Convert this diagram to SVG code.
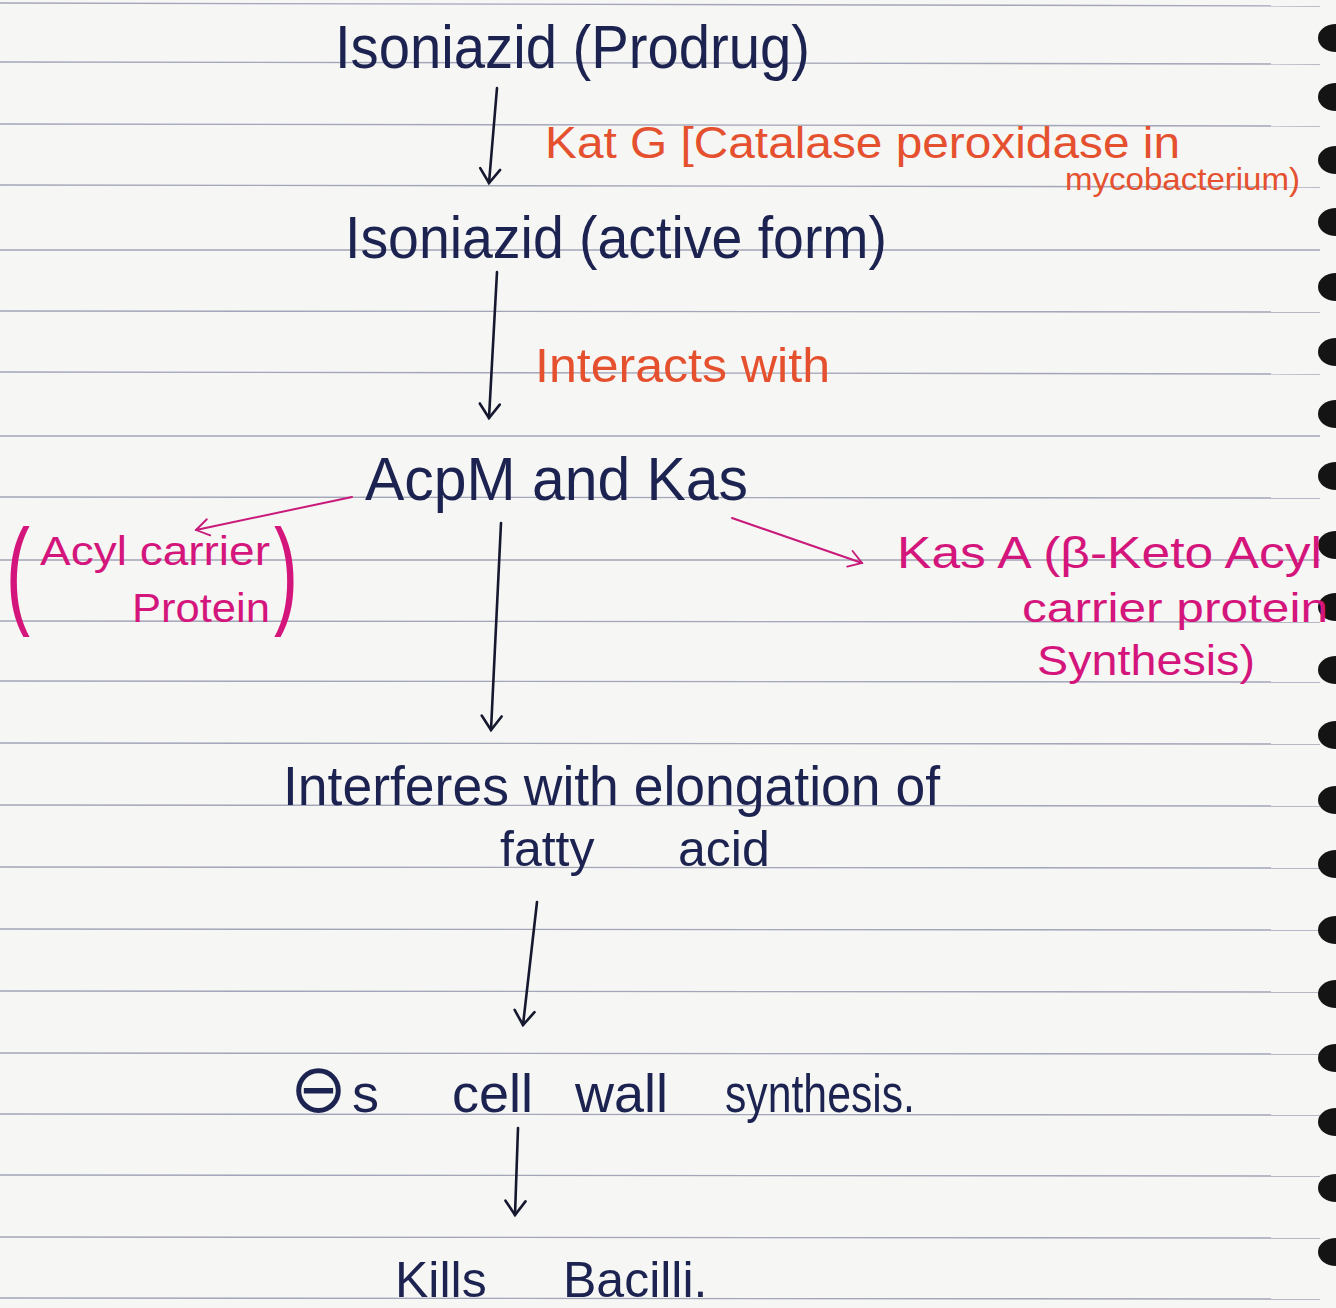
<svg xmlns="http://www.w3.org/2000/svg" width="1336" height="1308" viewBox="0 0 1336 1308">
<defs>
<style>
.ink{fill:#1c2350;font-family:"Liberation Sans",Arial,sans-serif}
.org{fill:#e5502f;font-family:"Liberation Sans",Arial,sans-serif}
.pnk{fill:#d4157c;font-family:"Liberation Sans",Arial,sans-serif}
.rule{stroke:#8f92aa;stroke-width:1.4;opacity:.8}
.hole{fill:#141414}
.conn{fill:none;stroke:#15182e;stroke-width:2.6;stroke-linecap:round}
.connp{fill:none;stroke:#c9197a;stroke-width:2;stroke-linecap:round}
</style>
<marker id="ah" viewBox="0 0 24 24" refX="20" refY="12" markerWidth="24" markerHeight="24" markerUnits="userSpaceOnUse" orient="auto">
<path d="M6,2 L20,12 L6,22" fill="none" stroke="#15182e" stroke-width="2.6" stroke-linecap="round"/>
</marker>
<marker id="ahp" viewBox="0 0 24 24" refX="20" refY="12" markerWidth="22" markerHeight="22" markerUnits="userSpaceOnUse" orient="auto">
<path d="M6,3 L20,12 L6,21" fill="none" stroke="#c9197a" stroke-width="2" stroke-linecap="round"/>
</marker>
</defs>
<rect width="1336" height="1308" fill="#f6f6f4"/>
<g id="paper">
<line class="rule" x1="0" y1="3" x2="1320" y2="6"/>
<line class="rule" x1="0" y1="62" x2="1320" y2="64"/>
<line class="rule" x1="0" y1="124" x2="1320" y2="126"/>
<line class="rule" x1="0" y1="185" x2="1320" y2="187"/>
<line class="rule" x1="0" y1="250" x2="1320" y2="250"/>
<line class="rule" x1="0" y1="311" x2="1320" y2="312"/>
<line class="rule" x1="0" y1="372" x2="1320" y2="374"/>
<line class="rule" x1="0" y1="436" x2="1320" y2="436"/>
<line class="rule" x1="0" y1="497" x2="1320" y2="498"/>
<line class="rule" x1="0" y1="560" x2="1320" y2="560"/>
<line class="rule" x1="0" y1="621" x2="1320" y2="622"/>
<line class="rule" x1="0" y1="681" x2="1320" y2="682"/>
<line class="rule" x1="0" y1="743" x2="1320" y2="744"/>
<line class="rule" x1="0" y1="805" x2="1320" y2="806"/>
<line class="rule" x1="0" y1="867" x2="1320" y2="868"/>
<line class="rule" x1="0" y1="929" x2="1320" y2="930"/>
<line class="rule" x1="0" y1="991" x2="1320" y2="992"/>
<line class="rule" x1="0" y1="1053" x2="1320" y2="1054"/>
<line class="rule" x1="0" y1="1114" x2="1320" y2="1115"/>
<line class="rule" x1="0" y1="1175" x2="1320" y2="1176"/>
<line class="rule" x1="0" y1="1237" x2="1320" y2="1238"/>
<line class="rule" x1="0" y1="1298" x2="1320" y2="1299"/>
<g>
<ellipse class="hole" cx="1336" cy="38" rx="18" ry="14"/>
<ellipse class="hole" cx="1336" cy="97" rx="18" ry="14"/>
<ellipse class="hole" cx="1336" cy="160" rx="18" ry="14"/>
<ellipse class="hole" cx="1336" cy="222" rx="18" ry="14"/>
<ellipse class="hole" cx="1336" cy="287" rx="18" ry="14"/>
<ellipse class="hole" cx="1336" cy="352" rx="18" ry="14"/>
<ellipse class="hole" cx="1336" cy="414" rx="18" ry="14"/>
<ellipse class="hole" cx="1336" cy="476" rx="18" ry="14"/>
<ellipse class="hole" cx="1336" cy="545" rx="18" ry="14"/>
<ellipse class="hole" cx="1336" cy="607" rx="18" ry="14"/>
<ellipse class="hole" cx="1336" cy="670" rx="18" ry="14"/>
<ellipse class="hole" cx="1336" cy="735" rx="18" ry="14"/>
<ellipse class="hole" cx="1336" cy="800" rx="18" ry="14"/>
<ellipse class="hole" cx="1336" cy="864" rx="18" ry="14"/>
<ellipse class="hole" cx="1336" cy="930" rx="18" ry="14"/>
<ellipse class="hole" cx="1336" cy="994" rx="18" ry="14"/>
<ellipse class="hole" cx="1336" cy="1058" rx="18" ry="14"/>
<ellipse class="hole" cx="1336" cy="1122" rx="18" ry="14"/>
<ellipse class="hole" cx="1336" cy="1188" rx="18" ry="14"/>
<ellipse class="hole" cx="1336" cy="1252" rx="18" ry="14"/>
</g>
</g>
<g id="connectors">
<line class="conn" x1="497" y1="88" x2="489" y2="183" marker-end="url(#ah)"/>
<line class="conn" x1="497" y1="272" x2="489" y2="418" marker-end="url(#ah)"/>
<line class="conn" x1="501" y1="523" x2="491" y2="730" marker-end="url(#ah)"/>
<line class="conn" x1="537" y1="902" x2="523" y2="1025" marker-end="url(#ah)"/>
<line class="conn" x1="518" y1="1128" x2="515" y2="1215" marker-end="url(#ah)"/>
<line class="connp" x1="352" y1="497" x2="196" y2="530" marker-end="url(#ahp)"/>
<line class="connp" x1="732" y1="518" x2="862" y2="563" marker-end="url(#ahp)"/>
</g>
<g id="prodrug">
<text class="ink" x="335" y="68" font-size="62" textLength="475" lengthAdjust="spacingAndGlyphs">Isoniazid (Prodrug)</text>
</g>
<g id="katg-label">
<text class="org" x="545" y="158" font-size="44" textLength="635" lengthAdjust="spacingAndGlyphs">Kat G [Catalase peroxidase in</text>
<text class="org" x="1065" y="190" font-size="32" textLength="235" lengthAdjust="spacingAndGlyphs">mycobacterium)</text>
</g>
<g id="active-form">
<text class="ink" x="345" y="258" font-size="60" textLength="542" lengthAdjust="spacingAndGlyphs">Isoniazid (active form)</text>
</g>
<g id="interacts-label">
<text class="org" x="535" y="382" font-size="48" textLength="295" lengthAdjust="spacingAndGlyphs">Interacts with</text>
</g>
<g id="acpm-kas">
<text class="ink" x="365" y="500" font-size="62" textLength="383" lengthAdjust="spacingAndGlyphs">AcpM and Kas</text>
</g>
<g id="acyl-carrier">
<text class="pnk" x="6" y="612" font-size="118" textLength="24" lengthAdjust="spacingAndGlyphs">(</text>
<text class="pnk" x="40" y="565" font-size="40" textLength="230" lengthAdjust="spacingAndGlyphs">Acyl carrier</text>
<text class="pnk" x="132" y="622" font-size="40" textLength="138" lengthAdjust="spacingAndGlyphs">Protein</text>
<text class="pnk" x="274" y="612" font-size="118" textLength="24" lengthAdjust="spacingAndGlyphs">)</text>
</g>
<g id="kasa">
<text class="pnk" x="897" y="568" font-size="44" textLength="425" lengthAdjust="spacingAndGlyphs">Kas A (β-Keto Acyl</text>
<text class="pnk" x="1022" y="622" font-size="40" textLength="306" lengthAdjust="spacingAndGlyphs">carrier protein</text>
<text class="pnk" x="1037" y="675" font-size="42" textLength="218" lengthAdjust="spacingAndGlyphs">Synthesis)</text>
</g>
<g id="interferes">
<text class="ink" x="283" y="805" font-size="56" textLength="657" lengthAdjust="spacingAndGlyphs">Interferes with elongation of</text>
<text class="ink" y="866" font-size="50"><tspan x="500">fatty </tspan><tspan x="678">acid</tspan></text>
</g>
<g id="cell-wall">
<text class="ink" y="1112" font-size="54"><tspan x="290" font-family="DejaVu Sans,sans-serif" font-size="68">⊖</tspan><tspan x="352">s </tspan><tspan x="452">cell </tspan><tspan x="575">wall </tspan></text>
<text class="ink" x="725" y="1112" font-size="54" textLength="190" lengthAdjust="spacingAndGlyphs">synthesis.</text>
</g>
<g id="kills">
<text class="ink" y="1297" font-size="50"><tspan x="395">Kills </tspan><tspan x="563">Bacilli.</tspan></text>
</g>
</svg>
